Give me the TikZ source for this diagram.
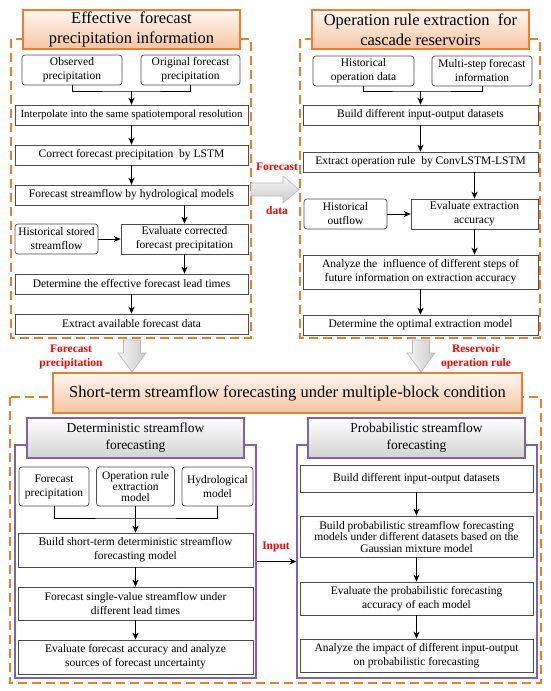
\documentclass[tikz,border=0pt]{standalone}
\usepackage{fontspec}
\setmainfont{Liberation Serif}
\usetikzlibrary{arrows.meta}
\definecolor{ornge}{RGB}{237,125,49}
\definecolor{purp}{RGB}{128,100,162}
\tikzset{
  box/.style={draw=gray!60!black, line width=0.7pt, fill=white, inner sep=1pt, align=center, font=\fontsize{11.5}{14}\selectfont},
  rbox/.style={box, rounded corners=3pt},
  headbox/.style={draw=ornge, line width=1.2pt, top color=ornge!6, bottom color=ornge!45, inner sep=0pt, align=center, font=\fontsize{16.5}{20}\selectfont},
  subhead/.style={draw=purp, line width=1.2pt, top color=white, bottom color=gray!35, inner sep=0pt, align=center, font=\fontsize{13.5}{17}\selectfont},
  dframe/.style={draw=ornge, line width=1.6pt, dash pattern=on 9pt off 5pt},
  pframe/.style={draw=purp, line width=1.1pt, inner sep=0pt},
  arr/.style={-{Stealth[length=7pt,width=6pt]}, line width=0.7pt},
  redlab/.style={text=red, align=center, font=\bfseries\fontsize{11.5}{14}\selectfont},
  bigarrow/.style={draw=gray!55, line width=0.6pt}
}
\begin{document}
\begin{tikzpicture}[x=1pt,y=-1pt]
\useasboundingbox (0,0) rectangle (550,691);

% effective forecast precipitation information
\draw[dframe] (11,39) rectangle (251,338);
\node[headbox, minimum width=217pt, minimum height=39pt] (tlhead) at (131.5,29.5) {Effective\ \ forecast\\precipitation information};
\node[rbox, minimum width=100pt, minimum height=30pt] (obs) at (72,70) {Observed\\precipitation};
\node[rbox, minimum width=99pt, minimum height=30pt] (orig) at (190.5,70) {Original forecast\\precipitation};
\node[box, minimum width=233pt, minimum height=20pt, font=\fontsize{10.9}{13}\selectfont] (interp) at (131.5,115) {Interpolate into the same spatiotemporal resolution};
\node[box, minimum width=233pt, minimum height=20pt] (corr) at (131.5,155) {Correct forecast precipitation\ \ by LSTM};
\node[box, minimum width=233pt, minimum height=20pt] (fsf) at (131.5,195) {Forecast streamflow by hydrological models};
\node[rbox, minimum width=83pt, minimum height=30pt] (hss) at (56.5,239) {Historical stored\\streamflow};
\node[box, minimum width=127pt, minimum height=30pt] (ecfp) at (184.5,239) {Evaluate corrected\\forecast precipitation};
\node[box, minimum width=233pt, minimum height=20pt] (delt) at (131.5,284) {Determine the effective forecast lead times};
\node[box, minimum width=233pt, minimum height=20pt] (efd) at (131.5,324) {Extract available forecast data};
\coordinate (j1) at (131.5,91);
\draw[line width=0.7pt] (obs.south) |- (j1) -| (orig.south);
\draw[arr] (j1) -- (interp.north);
\draw[arr] (interp) -- (corr);
\draw[arr] (corr) -- (fsf);
\draw[arr] (ecfp.north |- fsf.south) -- (ecfp.north);
\draw[arr] (hss) -- (ecfp);
\draw[arr] (ecfp.south) -- (ecfp.south |- delt.north);
\draw[arr] (delt) -- (efd);

% operation rule extraction
\draw[dframe] (300,39) rectangle (540,338);
\node[headbox, minimum width=217pt, minimum height=39pt] (trhead) at (420.5,29.5) {Operation rule extraction\ \ for\\cascade reservoirs};
\node[rbox, minimum width=101pt, minimum height=30pt] (hod) at (363.5,71) {Historical\\operation data};
\node[rbox, minimum width=100pt, minimum height=30pt] (msfi) at (482,71) {Multi-step forecast\\information};
\node[box, minimum width=235pt, minimum height=20pt] (bdd) at (420.5,115) {Build different input-output datasets};
\node[box, minimum width=235pt, minimum height=20pt] (eor) at (420.5,162) {Extract operation rule\ \ by ConvLSTM-LSTM};
\node[rbox, minimum width=83pt, minimum height=30pt] (hof) at (345.5,214) {Historical\\outflow};
\node[box, minimum width=127pt, minimum height=30pt] (eea) at (474.5,214) {Evaluate extraction\\accuracy};
\node[box, minimum width=235pt, minimum height=34pt] (aif) at (420.5,272) {Analyze the\ \ influence of different steps of\\future information on extraction accuracy};
\node[box, minimum width=235pt, minimum height=20pt] (dom) at (420.5,325) {Determine the optimal extraction model};
\coordinate (j2) at (420.5,91);
\draw[line width=0.7pt] (hod.south) |- (j2) -| (msfi.south);
\draw[arr] (j2) -- (bdd.north);
\draw[arr] (bdd) -- (eor);
\draw[arr] (eea.north |- eor.south) -- (eea.north);
\draw[arr] (hof) -- (eea);
\draw[arr] (eea.south) -- (eea.south |- aif.north);
\draw[arr] (aif) -- (dom);

% block arrows between the panels
\shade[bigarrow, top color=gray!8, bottom color=gray!40] (251,183) -- (283,183) -- (283,176) -- (299,189.5) -- (283,203) -- (283,196) -- (251,196) -- cycle;
\node[redlab] (lbfd) at (277,167) {Forecast};
\node[redlab] (lbdata) at (277,211) {data};
\shade[bigarrow, left color=gray!8, right color=gray!40] (123.5,340) -- (140.5,340) -- (140.5,353) -- (146,353) -- (132,372) -- (118,353) -- (123.5,353) -- cycle;
\node[redlab] (lbfp) at (71,357) {Forecast\\precipitation};
\shade[bigarrow, left color=gray!8, right color=gray!40] (412.5,340) -- (429.5,340) -- (429.5,353) -- (435,353) -- (421,372) -- (407,353) -- (412.5,353) -- cycle;
\node[redlab] (lbrr) at (476,357) {Reservoir\\operation rule};

% short-term streamflow forecasting
\draw[dframe] (10,397) rectangle (541,683);
\node[headbox, minimum width=469pt, minimum height=40pt] (bhead) at (287.5,393) {Short-term streamflow forecasting under multiple-block condition};
\node[pframe, minimum width=241pt, minimum height=233pt] (detframe) at (135.5,561.5) {};
\node[pframe, minimum width=240pt, minimum height=233pt] (probframe) at (417,561.5) {};
\node[subhead, minimum width=217pt, minimum height=40pt] (dethead) at (135.5,438) {Deterministic streamflow\\forecasting};
\node[subhead, minimum width=217pt, minimum height=40pt] (probhead) at (416.5,438) {Probabilistic streamflow\\forecasting};

% deterministic
\node[rbox, minimum width=70pt, minimum height=39pt] (fp) at (54,486.5) {Forecast\\precipitation};
\node[rbox, minimum width=78pt, minimum height=39pt, font=\fontsize{11.5}{11}\selectfont] (ore) at (135.5,486.5) {Operation rule\\extraction\\model};
\node[rbox, minimum width=71pt, minimum height=39pt] (hm) at (217.5,486.5) {Hydrological\\model};
\node[box, minimum width=235pt, minimum height=34pt] (bsd) at (135.5,550) {Build short-term deterministic streamflow\\forecasting model};
\node[box, minimum width=235pt, minimum height=33pt] (fsv) at (135.5,603.5) {Forecast single-value streamflow under\\different lead times};
\node[box, minimum width=235pt, minimum height=34pt] (efa) at (135.5,657) {Evaluate forecast accuracy and analyze\\sources of forecast uncertainty};
\coordinate (j3) at (135.5,518);
\draw[line width=0.7pt] (fp.south) |- (j3) -| (hm.south);
\draw[line width=0.7pt] (ore.south) -- (j3);
\draw[arr] (j3) -- (bsd.north);
\draw[arr] (bsd) -- (fsv);
\draw[arr] (fsv) -- (efa);

% probabilistic
\node[box, minimum width=233pt, minimum height=27pt] (bdd2) at (416.5,478.5) {Build different input-output datasets};
\node[box, minimum width=233pt, minimum height=41pt, font=\fontsize{11.5}{11.5}\selectfont] (bpm) at (416.5,536.5) {Build probabilistic streamflow forecasting\\models under different datasets based on the\\Gaussian mixture model};
\node[box, minimum width=233pt, minimum height=33pt] (epa) at (416.5,598.5) {Evaluate the probabilistic forecasting\\accuracy of each model};
\node[box, minimum width=233pt, minimum height=33pt] (aim) at (416.5,655.5) {Analyze the impact of different input-output\\on probabilistic forecasting};
\draw[arr] (bdd2) -- (bpm);
\draw[arr] (bpm) -- (epa);
\draw[arr] (epa) -- (aim);

\draw[arr] (detframe.east) -- (probframe.west);
\node[redlab] (lbin) at (276,547) {Input};
\end{tikzpicture}
\end{document}
